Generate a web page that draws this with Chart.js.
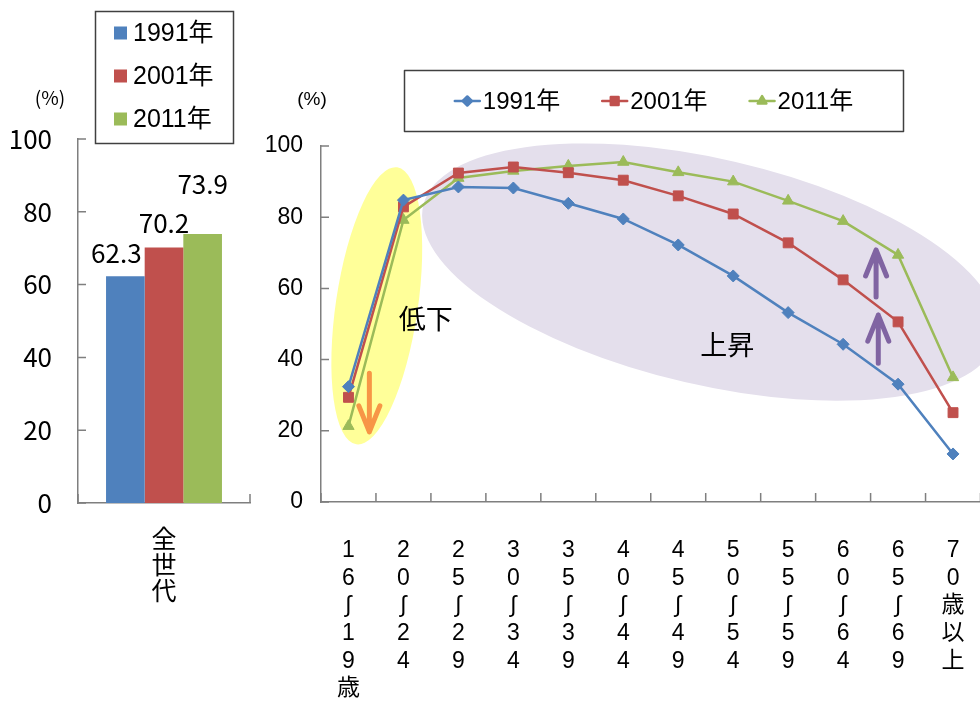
<!DOCTYPE html>
<html lang="ja">
<head>
<meta charset="utf-8">
<title>年齢階級別 比率の推移</title>
<script src="https://cdn.jsdelivr.net/npm/chart.js@4.4.1/dist/chart.umd.min.js"></script>
<style>
  html, body { margin: 0; padding: 0; background: #fff; overflow: hidden; width: 980px; height: 702px; }
  #left  { position: absolute; left: 0;     top: 0; width: 260px; height: 702px; }
  #right { position: absolute; left: 250px; top: 0; width: 750px; height: 702px; }
</style>
</head>
<body>
<div id="left"><canvas id="totalChart"></canvas></div>
<div id="right"><canvas id="ageChart"></canvas></div>
<script>
// ---- data ----
const years = ['1991年', '2001年', '2011年'];
const totalCategory = ['全世代'];
const totalRate = [62.3, 70.2, 73.9];

const ageGroups = ['16～19歳', '20～24', '25～29', '30～34', '35～39', '40～44',
                   '45～49', '50～54', '55～59', '60～64', '65～69', '70歳以上'];
const rate1991 = [32.4, 84.8, 88.5, 88.2, 83.9, 79.5, 72.2, 63.5, 53.2, 44.3, 33.1, 13.5];
const rate2001 = [29.4, 82.9, 92.4, 94.1, 92.5, 90.4, 86.0, 80.9, 72.8, 62.4, 50.6, 25.1];
const rate2011 = [21.3, 79.2, 91.0, 93.0, 94.4, 95.5, 92.6, 90.0, 84.6, 78.9, 69.4, 35.0];

const yMin = 0, yMax = 100, yStep = 20;

// ---- styling ----
const COLORS = ['#4F81BD', '#C0504D', '#9BBB59'];
const MARKERS = ['rectRot', 'rect', 'triangle'];
const AXIS = '#7F7F7F';
const LATIN = '"Liberation Sans", Arial, "Noto Sans CJK JP", sans-serif';
const JP = '"Noto Sans CJK JP", "Liberation Sans", sans-serif';

Chart.defaults.color = '#000';
Chart.defaults.animation = false;

// vertical label: one character per line, wave dash shown as an upright wave
const verticalLabel = s => Array.from(s).map(ch => ch === '～' ? '∫' : ch);

// inward tick marks on both axes (category boundaries on x)
const innerTicks = {
  id: 'innerTicks',
  afterDraw(chart) {
    const { ctx, chartArea: a, scales: { x, y } } = chart;
    ctx.save();
    ctx.strokeStyle = AXIS;
    ctx.lineWidth = 1.5;
    ctx.beginPath();
    y.ticks.forEach((t, i) => {
      const py = y.getPixelForTick(i);
      ctx.moveTo(a.left - 1, py);
      ctx.lineTo(a.left + 8, py);
    });
    for (let i = 0; i <= x.ticks.length; i++) {
      const px = x.getPixelForValue(i - 0.5);
      ctx.moveTo(px, a.bottom);
      ctx.lineTo(px, a.bottom - 9);
    }
    ctx.stroke();
    ctx.restore();
  }
};

// ---- left: all ages, bar chart ----
const barLabelOffsets = [[-9, -23], [0, -24], [0, -50]];

const totalExtras = {
  id: 'totalExtras',
  afterDraw(chart) {
    const ctx = chart.ctx;
    ctx.save();
    // value labels above bars
    ctx.font = '26px ' + JP;
    ctx.fillStyle = '#000';
    ctx.textAlign = 'center';
    ctx.textBaseline = 'middle';
    chart.data.datasets.forEach((ds, i) => {
      const bar = chart.getDatasetMeta(i).data[0];
      const [dx, dy] = barLabelOffsets[i];
      ctx.fillText(ds.data[0].toFixed(1), bar.x + dx, bar.y + dy);
    });
    // unit
    ctx.font = '19px ' + JP;
    ctx.fillText('(%)', 50, 98);
    // legend box
    ctx.strokeStyle = '#404040';
    ctx.lineWidth = 1.5;
    ctx.strokeRect(95.5, 11.5, 138, 132);
    ctx.font = '25px ' + LATIN;
    ctx.textAlign = 'left';
    chart.data.datasets.forEach((ds, i) => {
      const cy = 33 + i * 43;
      ctx.fillStyle = ds.backgroundColor;
      ctx.fillRect(114, cy - 6.5, 13, 13);
      ctx.fillStyle = '#000';
      ctx.fillText(ds.label, 133, cy + 1);
    });
    ctx.restore();
  }
};

new Chart(document.getElementById('totalChart'), {
  type: 'bar',
  data: {
    labels: totalCategory.map(verticalLabel),
    datasets: years.map((yr, i) => ({
      label: yr,
      data: [totalRate[i]],
      backgroundColor: COLORS[i],
      borderWidth: 0,
      categoryPercentage: 0.674,
      barPercentage: 1
    }))
  },
  options: {
    responsive: true,
    maintainAspectRatio: false,
    devicePixelRatio: 1,
    layout: { padding: { left: 0, right: 10, top: 139, bottom: 0 } },
    plugins: { legend: { display: false }, tooltip: { enabled: false }, title: { display: false } },
    scales: {
      x: {
        grid: { display: false, drawTicks: false },
        border: { display: true, color: AXIS, width: 1.5 },
        ticks: { font: { family: JP, size: 25, lineHeight: '26px' }, padding: 22, maxRotation: 0, autoSkip: false },
        afterFit(s) { s.height = 199; }
      },
      y: {
        min: yMin, max: yMax,
        grid: { display: false, drawTicks: false },
        border: { display: true, color: AXIS, width: 1.5 },
        ticks: { stepSize: yStep, font: { family: JP, size: 26 }, padding: 26 },
        afterFit(s) { s.width = 78; }
      }
    }
  },
  plugins: [innerTicks, totalExtras]
});

// ---- right: by age group, line chart ----
// annotation anchors are given in category index / value space
const notes = {
  ellipses: [
    { x: 0.515, y: 55.1, rx: 41, ry: 140, rot: 8.4, color: '#FFFF99' },
    { x: 6.58, y: 64.6, rx: 294.5, ry: 113, rot: 13.05, color: '#E4DFEC' }
  ],
  arrows: [
    { x: 0.38, from: 36.2, to: 19.7, color: '#F79646' },
    { x: 9.60, from: 57.6, to: 70.8, color: '#8064A2' },
    { x: 9.64, from: 39.0, to: 52.5, color: '#8064A2' }
  ],
  texts: [
    { x: 1.405, y: 51.4, text: '低下' },
    { x: 6.89, y: 44.1, text: '上昇' }
  ]
};

const ageBackdrop = {
  id: 'ageBackdrop',
  beforeDatasetsDraw(chart) {
    const { ctx, scales: { x, y } } = chart;
    ctx.save();
    notes.ellipses.forEach(e => {
      ctx.beginPath();
      ctx.ellipse(x.getPixelForValue(e.x), y.getPixelForValue(e.y), e.rx, e.ry, e.rot * Math.PI / 180, 0, Math.PI * 2);
      ctx.fillStyle = e.color;
      ctx.fill();
    });
    ctx.restore();
  }
};

const ageOverlay = {
  id: 'ageOverlay',
  afterDraw(chart) {
    const { ctx, scales: { x, y } } = chart;
    ctx.save();
    // arrows
    notes.arrows.forEach(a => {
      const px = x.getPixelForValue(a.x);
      const p0 = y.getPixelForValue(a.from);
      const p1 = y.getPixelForValue(a.to);
      const dir = Math.sign(p1 - p0);
      ctx.strokeStyle = a.color;
      ctx.lineWidth = 5;
      ctx.lineCap = 'round';
      ctx.lineJoin = 'round';
      ctx.beginPath();
      ctx.moveTo(px, p0);
      ctx.lineTo(px, p1);
      ctx.moveTo(px - 10.5, p1 - dir * 26);
      ctx.lineTo(px, p1);
      ctx.lineTo(px + 10.5, p1 - dir * 26);
      ctx.stroke();
    });
    // notes
    ctx.fillStyle = '#000';
    ctx.font = '27px ' + JP;
    ctx.textAlign = 'center';
    ctx.textBaseline = 'middle';
    notes.texts.forEach(t => ctx.fillText(t.text, x.getPixelForValue(t.x), y.getPixelForValue(t.y)));
    // unit
    ctx.font = '19px ' + LATIN;
    ctx.fillText('(%)', 62, 100);
    // legend box with line + marker samples
    ctx.strokeStyle = '#404040';
    ctx.lineWidth = 1.5;
    ctx.strokeRect(154.5, 70.5, 499, 61);
    ctx.font = '24px ' + LATIN;
    ctx.textAlign = 'left';
    const ds = chart.data.datasets;
    const widths = ds.map(d => 28 + ctx.measureText(d.label).width);
    const gap = 42;
    const total = widths.reduce((s, w) => s + w, 0) + gap * (ds.length - 1);
    let cx = 154.5 + (499 - total) / 2;
    const cy = 101;
    ds.forEach((d, i) => {
      ctx.strokeStyle = d.borderColor;
      ctx.lineWidth = 2.5;
      ctx.beginPath();
      ctx.moveTo(cx, cy);
      ctx.lineTo(cx + 25, cy);
      ctx.stroke();
      Chart.helpers.drawPoint(ctx, { pointStyle: d.pointStyle, rotation: 0, borderWidth: 1, radius: d.pointRadius - 1.5 }, cx + 12.5, cy);
      ctx.fillStyle = d.backgroundColor;
      ctx.fill();
      ctx.fillStyle = '#000';
      ctx.fillText(d.label, cx + 28, cy + 1);
      cx += widths[i] + gap;
    });
    ctx.restore();
  }
};

const series = [rate1991, rate2001, rate2011];

new Chart(document.getElementById('ageChart'), {
  type: 'line',
  data: {
    labels: ageGroups.map(verticalLabel),
    datasets: years.map((yr, i) => ({
      label: yr,
      data: series[i],
      borderColor: COLORS[i],
      backgroundColor: COLORS[i],
      borderWidth: 2.5,
      pointStyle: MARKERS[i],
      pointRadius: [6, 7, 6.5][i],
      pointBorderWidth: 1,
      pointBackgroundColor: COLORS[i],
      tension: 0,
      fill: false
    }))
  },
  options: {
    responsive: true,
    maintainAspectRatio: false,
    devicePixelRatio: 1,
    layout: { padding: { left: 0, right: 11.3, top: 146, bottom: 0 } },
    plugins: { legend: { display: false }, tooltip: { enabled: false }, title: { display: false } },
    scales: {
      x: {
        offset: true,
        grid: { display: false, drawTicks: false },
        border: { display: true, color: AXIS, width: 1.5 },
        ticks: { font: { family: LATIN, size: 23, lineHeight: 1.2 }, padding: 35, maxRotation: 0, autoSkip: false },
        afterFit(s) { s.height = 200; }
      },
      y: {
        min: yMin, max: yMax,
        grid: { display: false, drawTicks: false },
        border: { display: true, color: AXIS, width: 1.5 },
        ticks: { stepSize: yStep, font: { family: LATIN, size: 23 }, padding: 18 },
        afterFit(s) { s.width = 71; }
      }
    }
  },
  plugins: [innerTicks, ageBackdrop, ageOverlay]
});
</script>
</body>
</html>
